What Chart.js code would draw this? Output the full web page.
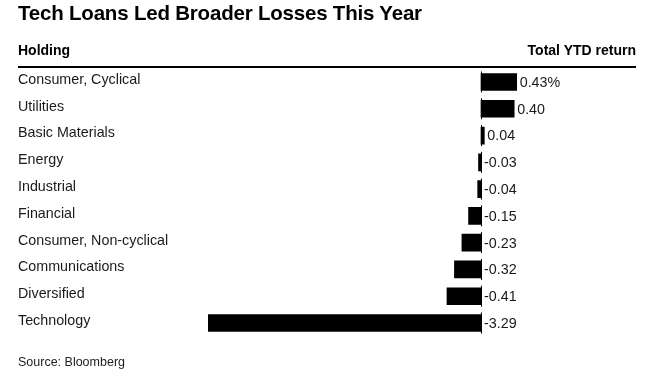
<!DOCTYPE html>
<html>
<head>
<meta charset="utf-8">
<script src="https://cdn.jsdelivr.net/npm/chart.js@4"></script>
<style>
  html, body { margin: 0; padding: 0; background: #fff; }
  #wrap { position: relative; width: 672px; height: 378px; overflow: hidden; font-family: "Liberation Sans", Arial, sans-serif; }
  #c { position: absolute; left: 0; top: 0; }
  .t { position: absolute; white-space: nowrap; color: #000; }
  #title { left: 18px; top: 1px; font-size: 20.5px; font-weight: bold; letter-spacing: -0.2px; }
  #h1 { left: 18px; top: 42px; font-size: 14px; font-weight: bold; }
  #h2 { right: 36px; top: 42px; font-size: 14px; font-weight: bold; }
  #rule { position: absolute; left: 18px; width: 618px; top: 66px; height: 2px; background: #000; }
  #src { left: 18px; top: 355px; font-size: 12.5px; color: #222; }
</style>
</head>
<body>
<div id="wrap">
  <canvas id="c" width="672" height="378"></canvas>
  <div class="t" id="title">Tech Loans Led Broader Losses This Year</div>
  <div class="t" id="h1">Holding</div>
  <div class="t" id="h2">Total YTD return</div>
  <div id="rule"></div>
  <div class="t" id="src">Source: Bloomberg</div>
</div>
<script>
const categories = ["Consumer, Cyclical", "Utilities", "Basic Materials", "Energy", "Industrial", "Financial", "Consumer, Non-cyclical", "Communications", "Diversified", "Technology"];
const returns = [0.43, 0.40, 0.04, -0.03, -0.04, -0.15, -0.23, -0.32, -0.41, -3.29];
const axisMin = -3.29;
const axisMax = 1.868;

function fmt(v, i) {
  return v.toFixed(2) + (i === 0 ? "%" : "");
}

const labelPlugin = {
  id: "valueLabels",
  afterDatasetsDraw(chart) {
    const ctx = chart.ctx;
    const xs = chart.scales.x;
    const x0 = Math.round(xs.getPixelForValue(0)) + 0.5;
    const meta = chart.getDatasetMeta(0);
    ctx.save();
    ctx.strokeStyle = "#000";
    ctx.lineWidth = 1;
    ctx.font = "14.3px 'Liberation Sans', Arial, sans-serif";
    ctx.fillStyle = "#1a1a1a";
    ctx.textBaseline = "middle";
    ctx.textAlign = "left";
    meta.data.forEach((bar, i) => {
      const v = returns[i];
      ctx.beginPath();
      ctx.moveTo(x0, bar.y - 10.5);
      ctx.lineTo(x0, bar.y + 10.5);
      ctx.stroke();
      const tx = v > 0 ? bar.x + 3 : x0 + 2.5;
      ctx.fillText(fmt(v, i), tx, bar.y + 1);
    });
    ctx.restore();
  }
};

new Chart(document.getElementById("c"), {
  type: "bar",
  data: {
    labels: categories,
    datasets: [{
      data: returns,
      backgroundColor: "#000",
      borderWidth: 0,
      barThickness: 17
    }]
  },
  options: {
    indexAxis: "y",
    responsive: false,
    animation: false,
    devicePixelRatio: 1,
    layout: { padding: { left: 18, right: 36, top: 68.6, bottom: 41.6 } },
    plugins: { legend: { display: false }, tooltip: { enabled: false }, title: { display: false } },
    scales: {
      x: {
        display: false,
        min: axisMin,
        max: axisMax
      },
      y: {
        grid: { display: false, drawTicks: false },
        border: { display: false },
        ticks: {
          crossAlign: "far",
          padding: 0,
          labelOffset: -2,
          color: "#1a1a1a",
          font: { family: "'Liberation Sans', Arial, sans-serif", size: 14.3 }
        },
        afterFit(scale) { scale.width = 190; }
      }
    }
  },
  plugins: [labelPlugin]
});
</script>
</body>
</html>
